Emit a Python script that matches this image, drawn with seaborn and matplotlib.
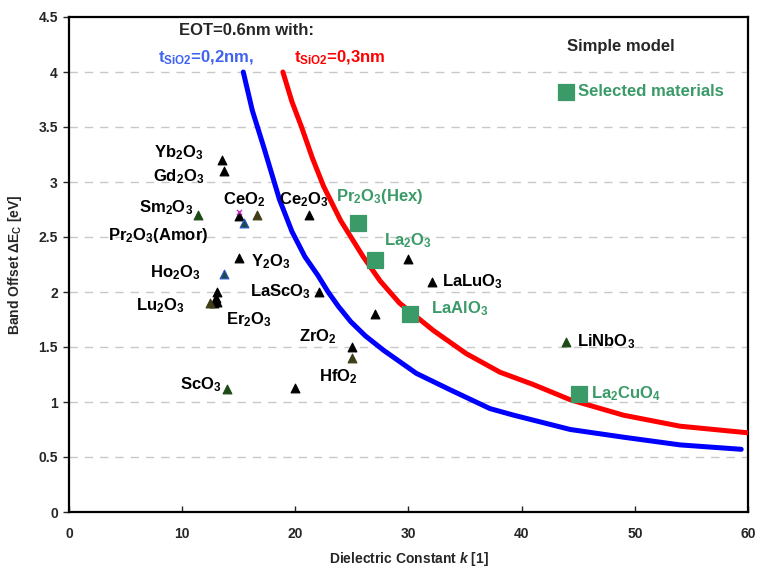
import matplotlib
matplotlib.use("Agg")
import matplotlib.pyplot as plt
import seaborn as sns

# ---- data ----
blue_k = [15.4, 16.2, 17.2, 18.6, 19.7, 20.85, 22.0, 22.9, 23.8, 24.9, 26.2, 27.8, 30.7, 33.7, 37.2, 39.3, 44.3, 49.0, 54.0, 59.4]
blue_e = [4.0, 3.65, 3.32, 2.84, 2.55, 2.32, 2.15, 2.0, 1.87, 1.73, 1.60, 1.47, 1.26, 1.11, 0.94, 0.88, 0.75, 0.68, 0.61, 0.57]
red_k = [18.9, 19.7, 20.55, 21.5, 22.5, 24.0, 26.0, 27.5, 29.2, 32.2, 35.1, 38.1, 41.0, 44.3, 49.0, 54.0, 60.0]
red_e = [4.0, 3.73, 3.5, 3.22, 2.96, 2.65, 2.32, 2.10, 1.90, 1.65, 1.44, 1.27, 1.16, 1.02, 0.88, 0.78, 0.72]

black_k = [13.5, 13.7, 15.0, 21.2, 15.0, 22.05, 13.1, 13.0, 13.1, 12.8, 20.0, 25.0, 27.0, 30.0, 32.1]
black_e = [3.2, 3.1, 2.69, 2.7, 2.31, 2.0, 2.0, 1.95, 1.91, 1.9, 1.13, 1.5, 1.8, 2.3, 2.09]
dgreen_k = [11.4, 14.0, 43.9]
dgreen_e = [2.7, 1.12, 1.55]
olive_k = [16.6, 12.5, 25.0]
olive_e = [2.7, 1.9, 1.4]
teal_k = [15.5, 13.7]
teal_e = [2.63, 2.16]
magenta_k = [15.0]
magenta_e = [2.73]

sel_names = ["$Pr_2O_3$(Hex)", "$La_2O_3$", "LaAlO$_3$", "$La_2CuO_4$"]
sel_k = [25.5, 27.05, 30.1, 45.1]
sel_e = [2.63, 2.29, 1.80, 1.07]

labels = ["$Yb_2O_3$", "$Gd_2O_3$", "$Sm_2O_3$", "$CeO_2$", "$Ce_2O_3$", "$Pr_2O_3$(Amor)",
          "$Y_2O_3$", "$Ho_2O_3$", "$LaScO_3$", "$Lu_2O_3$", "$Er_2O_3$", "$ZrO_2$",
          "$HfO_2$", "$ScO_3$", "$LaLuO_3$", "$LiNbO_3$"]
label_k = [11.9, 12.0, 11.0, 15.5, 20.75, 12.3, 16.1, 11.6, 16.0, 10.2, 13.9, 21.95, 23.8, 13.5, 33.0, 44.9]
label_e = [3.27, 3.05, 2.77, 2.84, 2.84, 2.51, 2.28, 2.18, 2.0, 1.88, 1.75, 1.59, 1.23, 1.16, 2.09, 1.55]
label_ha = ["right", "right", "right", "center", "center", "right", "left", "right", "left",
            "right", "left", "center", "center", "right", "left", "left"]
sel_label_k = [23.6, 27.85, 32.0, 46.1]
sel_label_e = [2.87, 2.47, 1.85, 1.08]

x_ticks = [0, 10, 20, 30, 40, 50, 60]
y_ticks = [0, 0.5, 1, 1.5, 2, 2.5, 3, 3.5, 4, 4.5]
y_ticklabels = ["0", "0.5", "1", "1.5", "2", "2.5", "3", "3.5", "4", "4.5"]

# ---- style ----
sns.set_theme(style="white")
plt.rcParams["font.family"] = ["Liberation Sans", "DejaVu Sans"]
plt.rcParams["font.weight"] = "bold"
plt.rcParams["mathtext.fontset"] = "custom"
plt.rcParams["mathtext.rm"] = "Liberation Sans:bold"
plt.rcParams["mathtext.bf"] = "Liberation Sans:bold"
plt.rcParams["mathtext.it"] = "Liberation Sans:italic:bold"
plt.rcParams["mathtext.default"] = "bf"

GREEN = "#3a9a68"
FS = 12

fig = plt.figure(figsize=(7.57, 5.73), dpi=100)
ax = fig.add_axes([69 / 757, 61 / 573, 679 / 757, 495 / 573])

for yv in y_ticks[1:-1]:
    ax.axhline(yv, color="#c8c8c8", lw=1.0, ls=(0, (6, 5)), zorder=0)

sns.lineplot(x=blue_k, y=blue_e, ax=ax, color="#0000ff", lw=3.6, sort=False, estimator=None, zorder=3)
sns.lineplot(x=red_k, y=red_e, ax=ax, color="#ff0000", lw=3.6, sort=False, estimator=None, zorder=3)

def tri(xs, ys, face, edge):
    sns.scatterplot(x=xs, y=ys, ax=ax, marker="^", s=40, color=face, edgecolor=edge,
                    linewidth=0.8, zorder=4)

tri(black_k, black_e, "black", "black")
tri(dgreen_k, dgreen_e, "#1c4a14", "#1c4a14")
tri(olive_k, olive_e, "#3e3d16", "#3e3d16")
tri(teal_k, teal_e, "#1b4a48", "#2a55c8")
sns.scatterplot(x=magenta_k, y=magenta_e, ax=ax, marker="x", s=14, color="#c020c0", linewidth=0.9, zorder=5)

sns.scatterplot(x=sel_k, y=sel_e, ax=ax, marker="s", s=120, color=GREEN, edgecolor=GREEN, zorder=5)
sns.scatterplot(x=[43.9], y=[3.82], ax=ax, marker="s", s=120, color=GREEN, edgecolor=GREEN, zorder=5)

for t, xk, ye, ha in zip(labels, label_k, label_e, label_ha):
    ax.text(xk, ye, t, ha=ha, va="center", fontsize=FS, color="black", fontweight="bold", zorder=6)
for t, xk, ye in zip(sel_names, sel_label_k, sel_label_e):
    ax.text(xk, ye, t, ha="left", va="center", fontsize=FS, color=GREEN, fontweight="bold", zorder=6)

ax.text(15.7, 4.38, "EOT=0.6nm with:", ha="center", va="center", fontsize=FS, fontweight="bold")
ax.text(7.9, 4.13, "$t_{SiO2}$=0,2nm,", ha="left", va="center", fontsize=FS, fontweight="bold", color="#3f63f0")
ax.text(19.9, 4.13, "$t_{SiO2}$=0,3nm", ha="left", va="center", fontsize=FS, fontweight="bold", color="#ff0000")
ax.text(44.0, 4.23, "Simple model", ha="left", va="center", fontsize=FS, fontweight="bold")
ax.text(45.0, 3.82, "Selected materials", ha="left", va="center", fontsize=FS, fontweight="bold", color=GREEN)

ax.set_xlim(0, 60)
ax.set_ylim(0, 4.5)
ax.set_xticks(x_ticks)
ax.set_yticks(y_ticks)
ax.set_xticklabels([str(v) for v in x_ticks], fontsize=10, fontweight="bold")
ax.set_yticklabels(y_ticklabels, fontsize=10, fontweight="bold")
ax.tick_params(axis="x", direction="in", length=4, width=1, pad=11, bottom=True)
ax.tick_params(axis="y", direction="out", length=4, width=1, pad=4, left=True)
for sp in ax.spines.values():
    sp.set_color("black")
    sp.set_linewidth(1.6)
ax.set_xlabel("Dielectric Constant $\\mathit{k}$ [1]", fontsize=10, fontweight="bold", labelpad=6)
ax.set_ylabel("Band Offset $\\Delta E_C$ [eV]", fontsize=10, fontweight="bold", labelpad=10)

fig.savefig("out.png", dpi=100)
